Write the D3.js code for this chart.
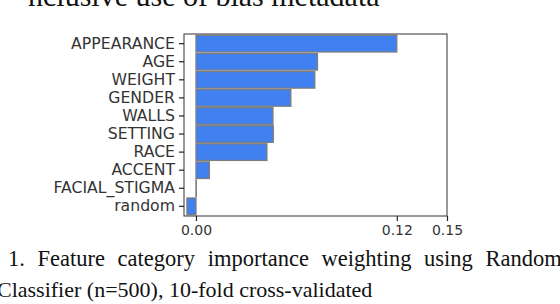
<!DOCTYPE html>
<html><head><meta charset="utf-8">
<script src="https://cdn.jsdelivr.net/npm/d3@7"></script>
<style>
html,body{margin:0;padding:0;background:#fff;overflow:hidden}
svg{display:block}
</style></head>
<body>
<script>
const categories = ["APPEARANCE","AGE","WEIGHT","GENDER","WALLS","SETTING","RACE","ACCENT","FACIAL_STIGMA","random"];
const importance = [0.120, 0.0726, 0.0710, 0.0567, 0.0460, 0.0462, 0.0424, 0.0080, 0.0002, -0.0054];
const xTicks = [0.00, 0.12, 0.15];
const topText = "nclusive use of bias metadata";
const captionLines = ["1. Feature category importance weighting using Random Forest", "Classifier (n=500), 10-fold cross-validated"];

(function(){
const W = 560, H = 304;
const svg = d3.select("body").append("svg").attr("width", W).attr("height", H);

const mLeft = 184, mRight = 447, mTop = 34, mBottom = 216;
const x = d3.scaleLinear().domain([-0.00716, 0.15]).range([mLeft, mRight]);
const y = d3.scaleBand().domain(categories).range([mTop, mBottom]).paddingInner(0.08).paddingOuter(0.075);

// bars
svg.append("g").selectAll("rect").data(categories).join("rect")
  .attr("x", (d,i) => Math.min(x(0), x(importance[i])))
  .attr("y", d => y(d))
  .attr("width", (d,i) => Math.abs(x(importance[i]) - x(0)))
  .attr("height", y.bandwidth())
  .attr("fill", "#4080f0")
  .attr("stroke", "#7e7e7e")
  .attr("stroke-width", 1.3);

// frame
svg.append("rect").attr("x", mLeft).attr("y", mTop).attr("width", mRight-mLeft).attr("height", mBottom-mTop)
  .attr("fill", "none").attr("stroke", "#333").attr("stroke-width", 1);

// y axis
const ya = svg.append("g").attr("transform", `translate(${mLeft},0)`)
  .call(d3.axisLeft(y).tickSize(5).tickPadding(4));
ya.select(".domain").remove();
ya.selectAll("line").attr("stroke", "#222").attr("stroke-width", 1.2);
ya.selectAll("text").attr("font-family", "DejaVu Sans").attr("font-size", 15.7).attr("fill", "#333");

// x axis
const xa = svg.append("g").attr("transform", `translate(0,${mBottom})`)
  .call(d3.axisBottom(x).tickValues(xTicks).tickFormat(d3.format(".2f")).tickSize(5).tickPadding(4));
xa.select(".domain").remove();
xa.selectAll("line").attr("stroke", "#222").attr("stroke-width", 1.2);
xa.selectAll("text").attr("font-family", "DejaVu Sans").attr("font-size", 14).attr("fill", "#333");

// top cut-off text
svg.append("text").attr("x", 28).attr("y", 6).attr("font-family", "Liberation Serif")
  .attr("font-size", 30).attr("fill", "#111").text(topText);

// caption
svg.append("text").attr("x", 8).attr("y", 266).attr("font-family", "Liberation Serif")
  .attr("font-size", 22.5).attr("word-spacing", 7).attr("fill", "#111").text(captionLines[0]);
svg.append("text").attr("x", -3).attr("y", 297).attr("font-family", "Liberation Serif")
  .attr("font-size", 22).attr("fill", "#111").text(captionLines[1]);
})();
</script>
</body></html>
